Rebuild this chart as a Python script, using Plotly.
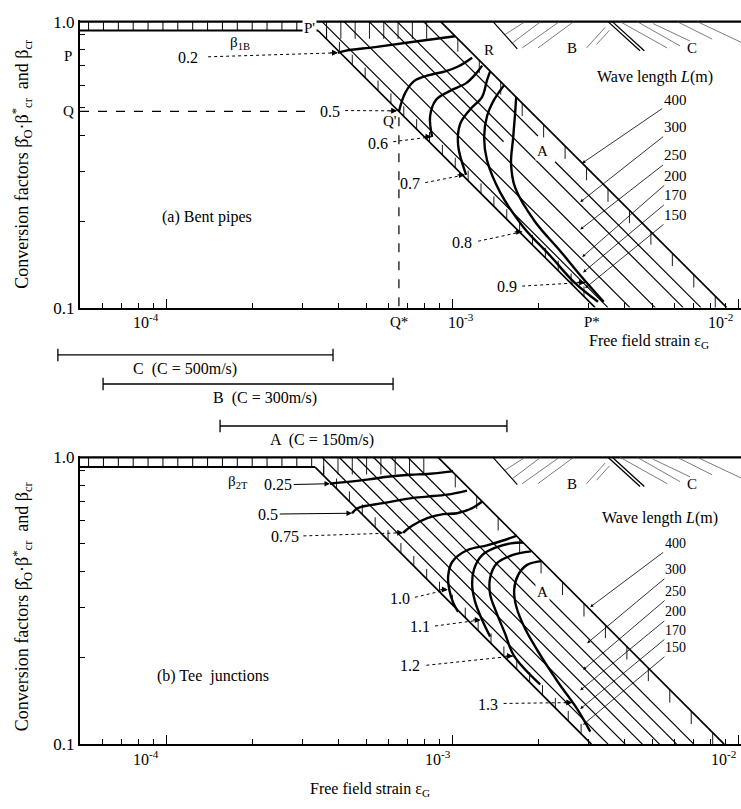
import numpy as np
import plotly.graph_objects as go

FONT = "Liberation Serif"

# ---------------- axis ticks ----------------
eps_major = [1e-4, 1e-3, 1e-2]
eps_minor = [6e-5, 7e-5, 8e-5, 9e-5, 2e-4, 3e-4, 4e-4, 5e-4, 6e-4, 7e-4, 8e-4, 9e-4,
             2e-3, 3e-3, 4e-3, 5e-3, 6e-3, 7e-3, 8e-3, 9e-3]
beta_major = [0.1, 1.0]
beta_major_text = ["0.1", "1.0"]
beta_minor = [0.2, 0.3, 0.4, 0.5, 0.6, 0.7, 0.8, 0.9]
eps_label_text = ["10<sup>-4</sup>", "10<sup>-3</sup>", "10<sup>-2</sup>"]
eps_label_logpos_a = [-4.07, -2.97, -2.06]
eps_label_logpos_b = [-4.07, -3.05, -2.05]

# ---------------- (a) Bent pipes ----------------
wave_lengths = ["400", "300", "250", "200", "170", "150"]
a_line_logeps_at1 = [-3.040, -3.192, -3.290, -3.378, -3.455, -3.500]
a_line_top_logbeta = [0.0, 0.0, 0.0, 0.0, 0.0, -0.031]
a_lineA_logeps_at1 = -3.13
a_lineA_logbeta = [-0.49, -1.0]
a_grid_logeps_at1 = [-3.24, -3.10]        # short grid lines in the upper part of the band
a_grid_logbeta_end = [-0.42, -0.40]
a_ladder_logbeta = -0.031

a_c02_x = [-3.399, -3.374, -3.269, -3.147, -2.990]
a_c02_y = [-0.109, -0.102, -0.089, -0.072, -0.051]
a_c05_x = [-3.186, -3.164, -3.133, -3.084, -3.024, -2.979, -2.930]
a_c05_y = [-0.314, -0.249, -0.208, -0.188, -0.174, -0.157, -0.126]
a_c06_x = [-3.070, -3.077, -3.056, -3.007, -2.951, -2.916, -2.895]
a_c06_y = [-0.403, -0.331, -0.273, -0.242, -0.215, -0.181, -0.154]
a_c07_x = [-2.951, -2.979, -2.972, -2.937, -2.895, -2.878, -2.867]
a_c07_y = [-0.536, -0.433, -0.358, -0.307, -0.263, -0.205, -0.174]
a_c08_x = [-2.818, -2.853, -2.878, -2.888, -2.878, -2.832, -2.752, -2.657, -2.570, -2.490]
a_c08_y = [-0.222, -0.273, -0.331, -0.403, -0.485, -0.597, -0.717, -0.819, -0.915, -0.980]
a_c09_x = [-2.776, -2.780, -2.787, -2.794, -2.780, -2.710, -2.622, -2.552, -2.470]
a_c09_y = [-0.263, -0.324, -0.410, -0.495, -0.580, -0.700, -0.802, -0.887, -0.980]

a_level_text = ["0.2", "0.5", "0.6", "0.7", "0.8", "0.9"]
a_level_text_x = [-3.923, -3.427, -3.259, -3.147, -2.965, -2.808]
a_level_text_y = [-0.126, -0.314, -0.427, -0.567, -0.771, -0.928]
a_lead_from_x = [-3.853, -3.374, -3.206, -3.094, -2.909, -2.755]
a_lead_from_y = [-0.123, -0.311, -0.420, -0.563, -0.768, -0.925]
a_lead_tip_x = [-3.399, -3.192, -3.072, -2.955, -2.755, -2.535]
a_lead_tip_y = [-0.109, -0.312, -0.403, -0.536, -0.735, -0.912]

a_Q_logeps = -3.186
a_Q_logbeta = -0.314
a_P_logbeta = -0.119

a_wl_text_logeps = -2.22
a_wl_text_logbeta = [-0.273, -0.369, -0.468, -0.539, -0.608, -0.676]
a_wl_tip_logeps = [-2.545, -2.552, -2.552, -2.545, -2.542, -2.535]
a_wl_tip_logbeta = [-0.495, -0.631, -0.727, -0.823, -0.877, -0.932]

# ---------------- (b) Tee junctions ----------------
b_line_logeps_at1 = [-3.049, -3.155, -3.215, -3.275, -3.335, -3.395, -3.455, -3.513]
b_line_top_logbeta = [0.0, 0.0, 0.0, 0.0, 0.0, 0.0, 0.0, -0.034]
b_ladder_logbeta = -0.034

b_c025_x = [-3.427, -3.297, -3.227, -3.147, -3.087, -3.017, -2.997]
b_c025_y = [-0.092, -0.078, -0.068, -0.061, -0.058, -0.051, -0.048]
b_c05_x = [-3.350, -3.329, -3.241, -3.147, -3.087, -3.017, -2.948]
b_c05_y = [-0.195, -0.177, -0.160, -0.143, -0.137, -0.130, -0.116]
b_c075_x = [-3.171, -3.140, -3.087, -3.031, -2.983, -2.930, -2.895]
b_c075_y = [-0.263, -0.239, -0.212, -0.198, -0.195, -0.177, -0.154]
b_c10_x = [-2.979, -2.997, -3.010, -3.014, -3.000, -2.948, -2.878, -2.822, -2.773]
b_c10_y = [-0.539, -0.505, -0.461, -0.416, -0.365, -0.324, -0.307, -0.290, -0.273]
b_c11_x = [-2.867, -2.895, -2.920, -2.930, -2.923, -2.895, -2.846, -2.794, -2.752]
b_c11_y = [-0.625, -0.567, -0.502, -0.444, -0.389, -0.341, -0.314, -0.300, -0.297]
b_c12_x = [-2.724, -2.790, -2.843, -2.867, -2.867, -2.846, -2.815, -2.783, -2.692]
b_c12_y = [-0.328, -0.341, -0.369, -0.420, -0.478, -0.539, -0.614, -0.693, -0.792]
b_c13_x = [-2.689, -2.738, -2.769, -2.783, -2.776, -2.745, -2.692, -2.629, -2.563, -2.517]
b_c13_y = [-0.362, -0.375, -0.410, -0.461, -0.519, -0.597, -0.689, -0.785, -0.877, -0.956]

b_level_text = ["0.75", "1.0", "1.1", "1.2", "1.3"]
b_level_text_x = [-3.584, -3.182, -3.112, -3.147, -2.874]
b_level_text_y = [-0.276, -0.491, -0.590, -0.727, -0.860]
b_lead_from_x = [-3.520, -3.130, -3.060, -3.090, -2.820]
b_lead_from_y = [-0.274, -0.488, -0.588, -0.725, -0.858]
b_lead_tip_x = [-3.171, -3.015, -2.900, -2.787, -2.580]
b_lead_tip_y = [-0.263, -0.461, -0.567, -0.693, -0.855]
b_arrow_text = ["0.25", "0.5"]
b_arrow_text_x = [-3.608, -3.643]
b_arrow_text_y = [-0.096, -0.198]
b_arrow_tip_x = [-3.427, -3.350]
b_arrow_tip_y = [-0.092, -0.195]

b_wl_text_logeps = -2.22
b_wl_text_logbeta = [-0.300, -0.392, -0.468, -0.539, -0.604, -0.664]
b_wl_tip_logeps = [-2.517, -2.528, -2.542, -2.552, -2.552, -2.542]
b_wl_tip_logbeta = [-0.522, -0.648, -0.741, -0.812, -0.877, -0.932]

# ---------------- B / C regions (same for both panels) ----------------
bc_B_edge_x = [-2.857, -2.772]
bc_B_edge_y = [0.0, -0.095]
bc_B_hatch_x0 = [-2.815, -2.790, -2.755, -2.700, -2.530, -2.495]
bc_B_hatch_y0 = [-0.045, -0.075, -0.092, -0.092, -0.092, -0.080]
bc_B_hatch_x1 = [-2.745, -2.690, -2.625, -2.575, -2.465, -2.450]
bc_B_hatch_y1 = [0.0, 0.0, 0.0, 0.0, -0.020, -0.030]
bc_BC_edge_x = [[-2.455, -2.343], [-2.440, -2.328]]
bc_BC_edge_y = [0.0, -0.102]
bc_C_hatch_x0 = [-2.413, -2.353, -2.297, -2.213, -2.143]
bc_C_hatch_y0 = [0.0, 0.0, -0.007, 0.0, 0.0]
bc_C_hatch_x1 = [-2.248, -2.203, -2.168, -2.091, -1.990]
bc_C_hatch_y1 = [-0.092, -0.085, -0.068, -0.061, -0.072]

# ---------------- wave-speed ranges between panels ----------------
range_names = ["C  (C = 500m/s)", "B  (C = 300m/s)", "A  (C = 150m/s)"]
range_lo_logeps = [-4.378, -4.220, -3.811]
range_hi_logeps = [-3.416, -3.206, -2.808]
range_label_logeps = [-3.934, -3.654, -3.455]

# ======================================================================
fig = go.Figure()


def P(v):
    return [None if t is None else 10 ** t for t in v]


def add_line(xs, ys, xa, ya, w=1.2, dash="solid", shape="linear", color="black"):
    fig.add_trace(go.Scatter(x=P(xs), y=P(ys), mode="lines",
                             line=dict(color=color, width=w, dash=dash, shape=shape),
                             xaxis=xa, yaxis=ya, showlegend=False, hoverinfo="skip"))


def add_segments(segs, xa, ya, w=1.0, color="black"):
    xs, ys = [], []
    for (x0, y0, x1, y1) in segs:
        xs += [x0, x1, None]
        ys += [y0, y1, None]
    add_line(xs, ys, xa, ya, w=w, color=color)


def text(s, x, y, xref, yref, size=15, **kw):
    kw.setdefault("xanchor", "center")
    kw.setdefault("yanchor", "middle")
    fig.add_annotation(text=s, x=x, y=y, xref=xref, yref=yref, showarrow=False,
                       font=dict(family=FONT, size=size, color="black"), **kw)


def arrowhead(x, y, xref, yref, axp=-9, ayp=0):
    fig.add_annotation(text="", x=x, y=y, xref=xref, yref=yref, showarrow=True,
                       arrowhead=2, arrowsize=1, arrowwidth=1.2, ax=axp, ay=ayp,
                       arrowcolor="black", standoff=0)


XMIN_LOG = -4.301


def draw_panel(xa, ya, lines_a, lines_top, ladder, curves, labA_pos, lineA=None, grid=None):
    add_line([XMIN_LOG, -1.99], [0, 0], xa, ya, w=2.2)
    lower = lines_a[-1]
    outer = lines_a[0]
    xP = lower - ladder
    add_line([XMIN_LOG, xP], [ladder, ladder], xa, ya, w=2.0)
    segs = [(x, 0.0, x, ladder) for x in np.arange(XMIN_LOG + 0.03, xP, 0.052)]
    add_segments(segs, xa, ya, w=1.0)
    for i, (a, yt) in enumerate(zip(lines_a, lines_top)):
        w = 1.7 if i in (0, len(lines_a) - 1) else 1.2
        add_line([a - yt, a + 1.0], [yt, -1.0], xa, ya, w=w)
    if lineA is not None:
        a, (y0, y1) = lineA
        add_line([a - y0, a - y1], [y0, y1], xa, ya, w=1.2)
    if grid is not None:
        for a, ye in zip(*grid):
            add_line([a, a - ye], [0.0, ye], xa, ya, w=1.2)
    segs = [(x, lower - x, x, lower - x + 0.035) for x in np.arange(xP + 0.03, lower + 0.97, 0.045)]
    add_segments(segs, xa, ya, w=0.9)
    segs = [(x, outer - x, x, outer - x - 0.045) for x in np.arange(outer + 0.06, outer + 0.98, 0.075)]
    add_segments(segs, xa, ya, w=0.9)
    segs = [(x, 0.0, x, -0.06) for x in np.arange(xP + 0.03, outer - 0.03, 0.05)]
    add_segments(segs, xa, ya, w=0.9)
    for cx, cy in curves:
        add_line(cx, cy, xa, ya, w=2.4, shape="spline")
    add_line(bc_B_edge_x, bc_B_edge_y, xa, ya, w=1.2)
    add_segments(list(zip(bc_B_hatch_x0, bc_B_hatch_y0, bc_B_hatch_x1, bc_B_hatch_y1)), xa, ya, w=0.7, color="#444")
    for ex in bc_BC_edge_x:
        add_line(ex, bc_BC_edge_y, xa, ya, w=1.3)
    add_segments(list(zip(bc_C_hatch_x0, bc_C_hatch_y0, bc_C_hatch_x1, bc_C_hatch_y1)), xa, ya, w=0.7, color="#444")
    text("B", -2.58, -0.092, xa, ya)
    text("C", -2.16, -0.092, xa, ya)
    text("A", labA_pos[0], labA_pos[1], xa, ya, bgcolor="white")


def paper_y(py):
    return 1 - py / 809.0


# ---------------- panel (a) ----------------
draw_panel("x", "y", a_line_logeps_at1, a_line_top_logbeta, a_ladder_logbeta,
           [(a_c02_x, a_c02_y), (a_c05_x, a_c05_y), (a_c06_x, a_c06_y),
            (a_c07_x, a_c07_y), (a_c08_x, a_c08_y), (a_c09_x, a_c09_y)],
           (-2.685, -0.451), lineA=(a_lineA_logeps_at1, a_lineA_logbeta),
           grid=(a_grid_logeps_at1, a_grid_logbeta_end))

add_line([XMIN_LOG, -3.50], [a_Q_logbeta, a_Q_logbeta], "x", "y", w=1.2, dash="dash")
add_line([a_Q_logeps, a_Q_logeps], [a_Q_logbeta - 0.02, -1.0], "x", "y", w=1.2, dash="dash")

for s, tx, ty, fx, fy, px_, py_ in zip(a_level_text, a_level_text_x, a_level_text_y,
                                        a_lead_from_x, a_lead_from_y, a_lead_tip_x, a_lead_tip_y):
    text(s, tx, ty, "x", "y", size=16)
    add_line([fx, px_], [fy, py_], "x", "y", w=1.0, dash="dot")
    arrowhead(px_, py_, "x", "y")

text("β<sub>1B</sub>", -3.741, -0.075, "x", "y")
text("P'", -3.50, -0.022, "x", "y", bgcolor="white")
text("Q'", -3.217, -0.348, "x", "y")
text("R", -2.87, -0.098, "x", "y")
text("(a) Bent pipes", -3.857, -0.683, "x", "y", size=16)
text("Wave length <i>L</i>(m)", -2.29, -0.195, "x", "y", size=16)
for s, ty, tx2, ty2 in zip(wave_lengths, a_wl_text_logbeta, a_wl_tip_logeps, a_wl_tip_logbeta):
    fig.add_annotation(text=s, x=tx2, y=ty2, xref="x", yref="y", ax=a_wl_text_logeps, ay=ty,
                       axref="x", ayref="y", showarrow=True, arrowhead=2, arrowsize=0.8,
                       arrowwidth=0.8, arrowcolor="black",
                       font=dict(family=FONT, size=15, color="black"))

for s, lx in zip(eps_label_text, eps_label_logpos_a):
    text(s, lx, paper_y(321), "x", "paper", size=16)
text("Q*", a_Q_logeps, paper_y(322), "x", "paper", size=15)
text("P*", -2.51, paper_y(322), "x", "paper", size=15)
text("Free field strain ε<sub>G</sub>", -2.31, paper_y(342), "x", "paper", size=16)
text("P", 68 / 741, a_P_logbeta, "paper", "y")
text("Q", 68 / 741, a_Q_logbeta, "paper", "y")

# ---------------- panel (b) ----------------
draw_panel("x2", "y2", b_line_logeps_at1, b_line_top_logbeta, b_ladder_logbeta,
           [(b_c025_x, b_c025_y), (b_c05_x, b_c05_y), (b_c075_x, b_c075_y),
            (b_c10_x, b_c10_y), (b_c11_x, b_c11_y), (b_c12_x, b_c12_y), (b_c13_x, b_c13_y)],
           (-2.685, -0.468))

for s, tx, ty, fx, fy, px_, py_ in zip(b_level_text, b_level_text_x, b_level_text_y,
                                        b_lead_from_x, b_lead_from_y, b_lead_tip_x, b_lead_tip_y):
    text(s, tx, ty, "x2", "y2", size=16)
    add_line([fx, px_], [fy, py_], "x2", "y2", w=1.0, dash="dot")
    arrowhead(px_, py_, "x2", "y2")
for s, tx, ty, px_, py_ in zip(b_arrow_text, b_arrow_text_x, b_arrow_text_y, b_arrow_tip_x, b_arrow_tip_y):
    fig.add_annotation(text=s, x=px_, y=py_, xref="x2", yref="y2", ax=tx, ay=ty,
                       axref="x2", ayref="y2", showarrow=True, arrowhead=2, arrowsize=1,
                       arrowwidth=1.1, arrowcolor="black",
                       font=dict(family=FONT, size=16, color="black"))

text("β<sub>2T</sub>", -3.748, -0.085, "x2", "y2")
text("(b) Tee  junctions", -3.836, -0.761, "x2", "y2", size=16)
text("Wave length <i>L</i>(m)", -2.273, -0.212, "x2", "y2", size=16)
for s, ty, tx2, ty2 in zip(wave_lengths, b_wl_text_logbeta, b_wl_tip_logeps, b_wl_tip_logbeta):
    fig.add_annotation(text=s, x=tx2, y=ty2, xref="x2", yref="y2", ax=b_wl_text_logeps, ay=ty,
                       axref="x2", ayref="y2", showarrow=True, arrowhead=2, arrowsize=0.8,
                       arrowwidth=0.8, arrowcolor="black",
                       font=dict(family=FONT, size=14, color="black"))
for s, lx in zip(eps_label_text, eps_label_logpos_b):
    text(s, lx, paper_y(767), "x2", "paper", size=16)
text("Free field strain ε<sub>G</sub>", -3.287, paper_y(799), "x2", "paper", size=16)

# ---------------- ranges between panels ----------------
range_levels = [0.86, 0.59, 0.20]
for nm, lo, hi, lx, lv in zip(range_names, range_lo_logeps, range_hi_logeps, range_label_logeps, range_levels):
    fig.add_trace(go.Scatter(x=[10 ** lo, 10 ** hi], y=[lv, lv], mode="lines+markers",
                             line=dict(color="black", width=1.3),
                             marker=dict(symbol="line-ns-open", size=9, color="black",
                                         line=dict(width=1.3, color="black")),
                             xaxis="x3", yaxis="y3", showlegend=False, hoverinfo="skip"))
    text(nm, lx, lv - 0.13, "x3", "y3", size=16)

# ---------------- y-axis titles ----------------
ytitle = "Conversion factors β\u0302<sub>O</sub>·β<sup>*</sup><sub>cr</sub>  and β<sub>cr</sub>"
text(ytitle, 22 / 741, paper_y(160), "paper", "paper", size=18, textangle=-90)
text(ytitle, 22 / 741, paper_y(612), "paper", "paper", size=18, textangle=-90)

# ---------------- layout ----------------
xdom = [80 / 741, 1.0]
xrange_log = [XMIN_LOG, -1.990]


def xax(anchor):
    return dict(type="log", domain=xdom, range=xrange_log, anchor=anchor,
                showline=True, linewidth=2, linecolor="black", mirror=False,
                showgrid=False, zeroline=False, ticks="inside", ticklen=9, tickwidth=1.3,
                tickcolor="black", tickvals=eps_major, showticklabels=False,
                minor=dict(tickvals=eps_minor, ticks="inside", ticklen=5, tickcolor="black", tickwidth=1))


def yax(anchor, dom):
    return dict(type="log", domain=dom, range=[-1.0, 0.006], anchor=anchor,
                showline=True, linewidth=2, linecolor="black", showgrid=False, zeroline=False,
                ticks="inside", ticklen=6, tickcolor="black", tickvals=beta_major,
                ticktext=beta_major_text, tickfont=dict(family=FONT, size=17, color="black"),
                minor=dict(tickvals=beta_minor, ticks="inside", ticklen=5, tickcolor="black"))


fig.update_layout(
    width=741, height=809, autosize=False,
    margin=dict(l=0, r=0, t=0, b=0),
    paper_bgcolor="white", plot_bgcolor="white",
    showlegend=False,
    xaxis=xax("y"),
    yaxis=yax("x", [1 - 307 / 809, 1 - 13.2 / 809]),
    xaxis2=xax("y2"),
    yaxis2=yax("x2", [1 - 753 / 809, 1 - 458.2 / 809]),
    xaxis3=dict(type="log", domain=[0, 1], range=[-4.5804, -1.9895], anchor="y3", visible=False),
    yaxis3=dict(domain=[1 - 450 / 809, 1 - 340 / 809], range=[0, 1], anchor="x3", visible=False),
)

fig.write_html("out.html", config={"displayModeBar": False},
               post_script="document.body.style.margin='0px';")
